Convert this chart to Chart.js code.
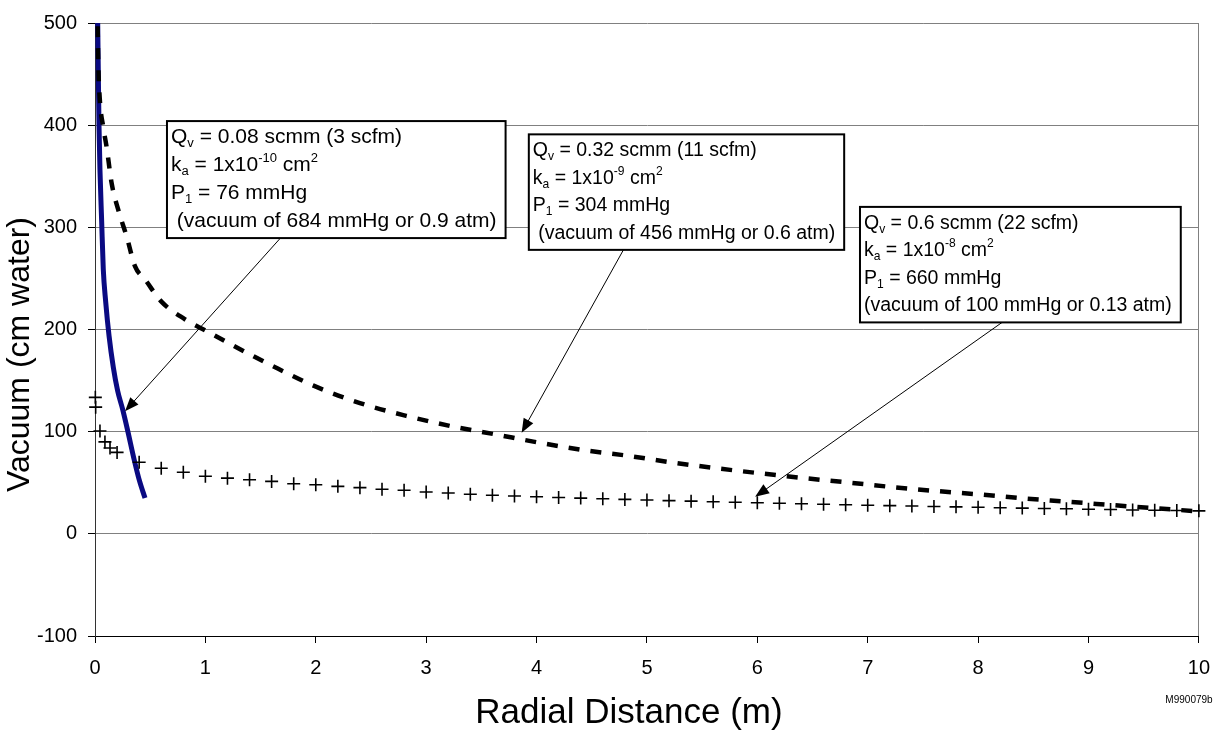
<!DOCTYPE html>
<html>
<head>
<meta charset="utf-8">
<title>Vacuum vs Radial Distance</title>
<script src="https://cdn.jsdelivr.net/npm/chart.js@4.4.1/dist/chart.umd.min.js"></script>
<style>
  body { margin: 0; background: #fff; }
  canvas { display: block; }
</style>
</head>
<body>
<canvas id="myChart" width="1223" height="733"></canvas>
<script>
const FONT = '"Liberation Sans", Arial, Helvetica, sans-serif'

// axis limits / steps
const X_MIN = 0, X_MAX = 10, X_STEP = 1
const Y_MIN = -100, Y_MAX = 500, Y_STEP = 100

// Qv = 0.08 scmm, solid blue
const lowFlowX = [0.018, 0.024, 0.03, 0.036, 0.045, 0.06, 0.075, 0.097, 0.127, 0.166, 0.205, 0.25, 0.296, 0.356, 0.40, 0.453]
const lowFlowY = [560, 504, 452, 401, 356, 307, 259, 227, 194, 163, 140, 122, 101, 72, 53, 35]

// Qv = 0.32 scmm, dashed
const midFlowX = [0.02, 0.024, 0.03, 0.045, 0.075, 0.106, 0.151, 0.211, 0.287, 0.362, 0.453, 0.604, 0.815, 1.0, 1.24, 1.45, 1.66, 1.98, 2.4, 2.82, 3.22, 3.62, 4.02, 4.42, 4.82, 5.22, 5.63, 6.02, 6.43, 6.82, 7.22, 7.62, 8.03, 8.42, 8.83, 9.22, 9.62, 10.0]
const midFlowY = [540, 498, 459, 423, 398, 378, 343, 317, 291, 262, 249, 227, 210, 199, 185, 173, 161.5, 145, 128, 115.5, 105.5, 97.5, 89.3, 82, 76.5, 70, 64.2, 59.3, 54.5, 50.3, 45.8, 41.9, 38.4, 34.6, 31.3, 28.1, 24.9, 22]

// Qv = 0.6 scmm, plus markers
const highFlowX = [0.003, 0.006, 0.045, 0.09, 0.136, 0.2,
  0.4, 0.6, 0.8, 1.0, 1.2, 1.4, 1.6, 1.8, 2.0, 2.2, 2.4, 2.6, 2.8, 3.0, 3.2, 3.4,
  3.6, 3.8, 4.0, 4.2, 4.4, 4.6, 4.8, 5.0, 5.2, 5.4, 5.6, 5.8, 6.0, 6.2, 6.4, 6.6, 6.8, 7.0,
  7.2, 7.4, 7.6, 7.8, 8.0, 8.2, 8.4, 8.6, 8.8, 9.0, 9.2, 9.4, 9.6, 9.8, 10.0]
const highFlowY = [133.6, 124, 100.7, 90, 84, 79.7,
  70, 64.2, 60.3, 56.4, 54.5, 52.9, 51.3, 49, 48.1, 46.5, 45.2, 43.6, 42.6, 40.9, 40, 38.7,
  37.8, 37, 36.3, 35.6, 35, 34.3, 33.7, 33.1, 32.5, 32, 31.4, 30.9, 30.4, 29.9, 29.4, 28.9, 28.5, 28,
  27.6, 27.2, 26.8, 26.4, 26, 25.6, 25.2, 24.8, 24.5, 24.1, 23.8, 23.4, 23.1, 22.8, 22.5]

// annotation text, _{} = subscript, ^{} = superscript
const boxText1 = ["Q_{v} = 0.08 scmm (3 scfm)", "k_{a} = 1x10^{-10} cm^{2}", "P_{1} = 76 mmHg", " (vacuum of 684 mmHg or 0.9 atm)"]
const boxText2 = ["Q_{v} = 0.32 scmm (11 scfm)", "k_{a} = 1x10^{-9} cm^{2}", "P_{1} = 304 mmHg", " (vacuum of 456 mmHg or 0.6 atm)"]
const boxText3 = ["Q_{v} = 0.6 scmm (22 scfm)", "k_{a} = 1x10^{-8} cm^{2}", "P_{1} = 660 mmHg", "(vacuum of 100 mmHg or 0.13 atm)"]

// box top-left corner (data units), arrow tip (data units), arrow start along box bottom (fraction)
const boxX = [0.652, 3.93, 6.93]
const boxY = [404, 391, 320]
const tipX = [0.272, 3.865, 5.98]
const tipY = [120, 99, 36.2]
const startFrac = [0.335, 0.30, 0.443]
const boxFontSize = [21, 19.5, 19.5]
const boxLineGap = [28, 27.5, 27.5]

function toPoints(xs, ys) {
  return xs.map((x, i) => ({ x: x, y: ys[i] }))
}

// draws "Q_{v} = ..." with sub/superscripts, returns width
function richText(ctx, str, x, y, size, measureOnly) {
  const parts = str.split(/(_\{[^}]*\}|\^\{[^}]*\})/).filter(p => p.length)
  let w = 0
  parts.forEach(p => {
    let txt = p, s = size, dy = 0
    if (p.startsWith('_{')) { txt = p.slice(2, -1); s = size * 0.62; dy = size * 0.3 }
    else if (p.startsWith('^{')) { txt = p.slice(2, -1); s = size * 0.62; dy = -size * 0.36 }
    ctx.font = s + 'px ' + FONT
    if (!measureOnly) ctx.fillText(txt, x + w, y + dy)
    w += ctx.measureText(txt).width
  })
  return w
}

function drawArrow(ctx, x1, y1, x2, y2) {
  const a = Math.atan2(y2 - y1, x2 - x1)
  const len = 14, half = 5.5
  const c = Math.cos(a), s = Math.sin(a)
  ctx.beginPath()
  ctx.moveTo(x1, y1)
  ctx.lineTo(x2 - c * len * 0.8, y2 - s * len * 0.8)
  ctx.stroke()
  ctx.beginPath()
  ctx.moveTo(x2, y2)
  ctx.lineTo(x2 - len * c + half * s, y2 - len * s - half * c)
  ctx.lineTo(x2 - len * c - half * s, y2 - len * s + half * c)
  ctx.closePath()
  ctx.fill()
}

const annotationPlugin = {
  id: 'annotationPlugin',
  afterDatasetsDraw(chart) {
    const ctx = chart.ctx
    const xs = chart.scales.x, ys = chart.scales.y
    const texts = [boxText1, boxText2, boxText3]
    ctx.save()
    texts.forEach((lines, i) => {
      const size = boxFontSize[i], gap = boxLineGap[i]
      let maxW = 0
      lines.forEach(l => { maxW = Math.max(maxW, richText(ctx, l, 0, 0, size, true)) })
      const bx = xs.getPixelForValue(boxX[i])
      const by = ys.getPixelForValue(boxY[i])
      const bw = maxW + 13
      const bh = 33 + gap * 3

      // arrow first, box covers its start
      ctx.strokeStyle = '#000'
      ctx.fillStyle = '#000'
      ctx.lineWidth = 1
      drawArrow(ctx, bx + bw * startFrac[i], by + bh, xs.getPixelForValue(tipX[i]), ys.getPixelForValue(tipY[i]))

      ctx.fillStyle = '#fff'
      ctx.fillRect(bx, by, bw, bh)
      ctx.lineWidth = 2
      ctx.strokeRect(bx, by, bw, bh)

      ctx.fillStyle = '#000'
      ctx.textAlign = 'left'
      ctx.textBaseline = 'middle'
      lines.forEach((l, j) => richText(ctx, l, bx + 4, by + 16.5 + j * gap, size, false))
    })
    ctx.restore()
  },
  afterDraw(chart) {
    const ctx = chart.ctx
    const area = chart.chartArea
    ctx.save()
    ctx.fillStyle = '#000'
    ctx.textAlign = 'center'
    ctx.textBaseline = 'middle'
    ctx.font = '35px ' + FONT
    ctx.fillText('Radial Distance (m)', (area.left + area.right) / 2 - 18, area.bottom + 77)

    // y title sits a bit below the plot centre like the original
    ctx.font = '32px ' + FONT
    ctx.save()
    ctx.translate(20, (area.top + area.bottom) / 2 + 25)
    ctx.rotate(-Math.PI / 2)
    ctx.fillText('Vacuum (cm water)', 0, 0)
    ctx.restore()

    ctx.font = '10px ' + FONT
    ctx.fillText('M990079b', 1189, 700)
    ctx.restore()
  }
}

const tickFont = { family: FONT, size: 20 }

new Chart(document.getElementById('myChart'), {
  type: 'scatter',
  data: {
    datasets: [
      {
        label: 'Qv = 0.08 scmm',
        data: toPoints(lowFlowX, lowFlowY),
        order: 2,
        showLine: true,
        borderColor: '#0a0a82',
        borderWidth: 5,
        pointRadius: 0,
        cubicInterpolationMode: 'monotone'
      },
      {
        label: 'Qv = 0.32 scmm',
        data: toPoints(midFlowX, midFlowY),
        order: 1,
        showLine: true,
        borderColor: '#000',
        borderWidth: 4.5,
        borderDash: [11, 11],
        pointRadius: 0,
        cubicInterpolationMode: 'monotone'
      },
      {
        label: 'Qv = 0.6 scmm',
        data: toPoints(highFlowX, highFlowY),
        order: 0,
        showLine: false,
        pointStyle: 'cross',
        pointRadius: 6.5,
        pointBorderColor: '#000',
        pointBorderWidth: 1.6,
        clip: false
      }
    ]
  },
  options: {
    responsive: false,
    animation: false,
    layout: { padding: { top: 17, right: 24, left: 0, bottom: 0 } },
    plugins: {
      legend: { display: false },
      tooltip: { enabled: false }
    },
    scales: {
      x: {
        type: 'linear',
        min: X_MIN,
        max: X_MAX,
        ticks: { stepSize: X_STEP, font: tickFont, color: '#000', padding: 13 },
        grid: {
          color: c => (c.tick && c.tick.value === X_MAX) ? '#808080' : 'rgba(0,0,0,0)',
          tickColor: '#000',
          tickLength: 7
        },
        border: { color: '#000', width: 1 },
        afterFit: s => { s.height = 97 }
      },
      y: {
        min: Y_MIN,
        max: Y_MAX,
        ticks: { stepSize: Y_STEP, font: tickFont, color: '#000', padding: 11 },
        grid: { color: '#808080', tickColor: '#000', tickLength: 7 },
        border: { color: '#333', width: 1 },
        afterFit: s => { s.width = 95 }
      }
    }
  },
  plugins: [annotationPlugin]
})
</script>
</body>
</html>
